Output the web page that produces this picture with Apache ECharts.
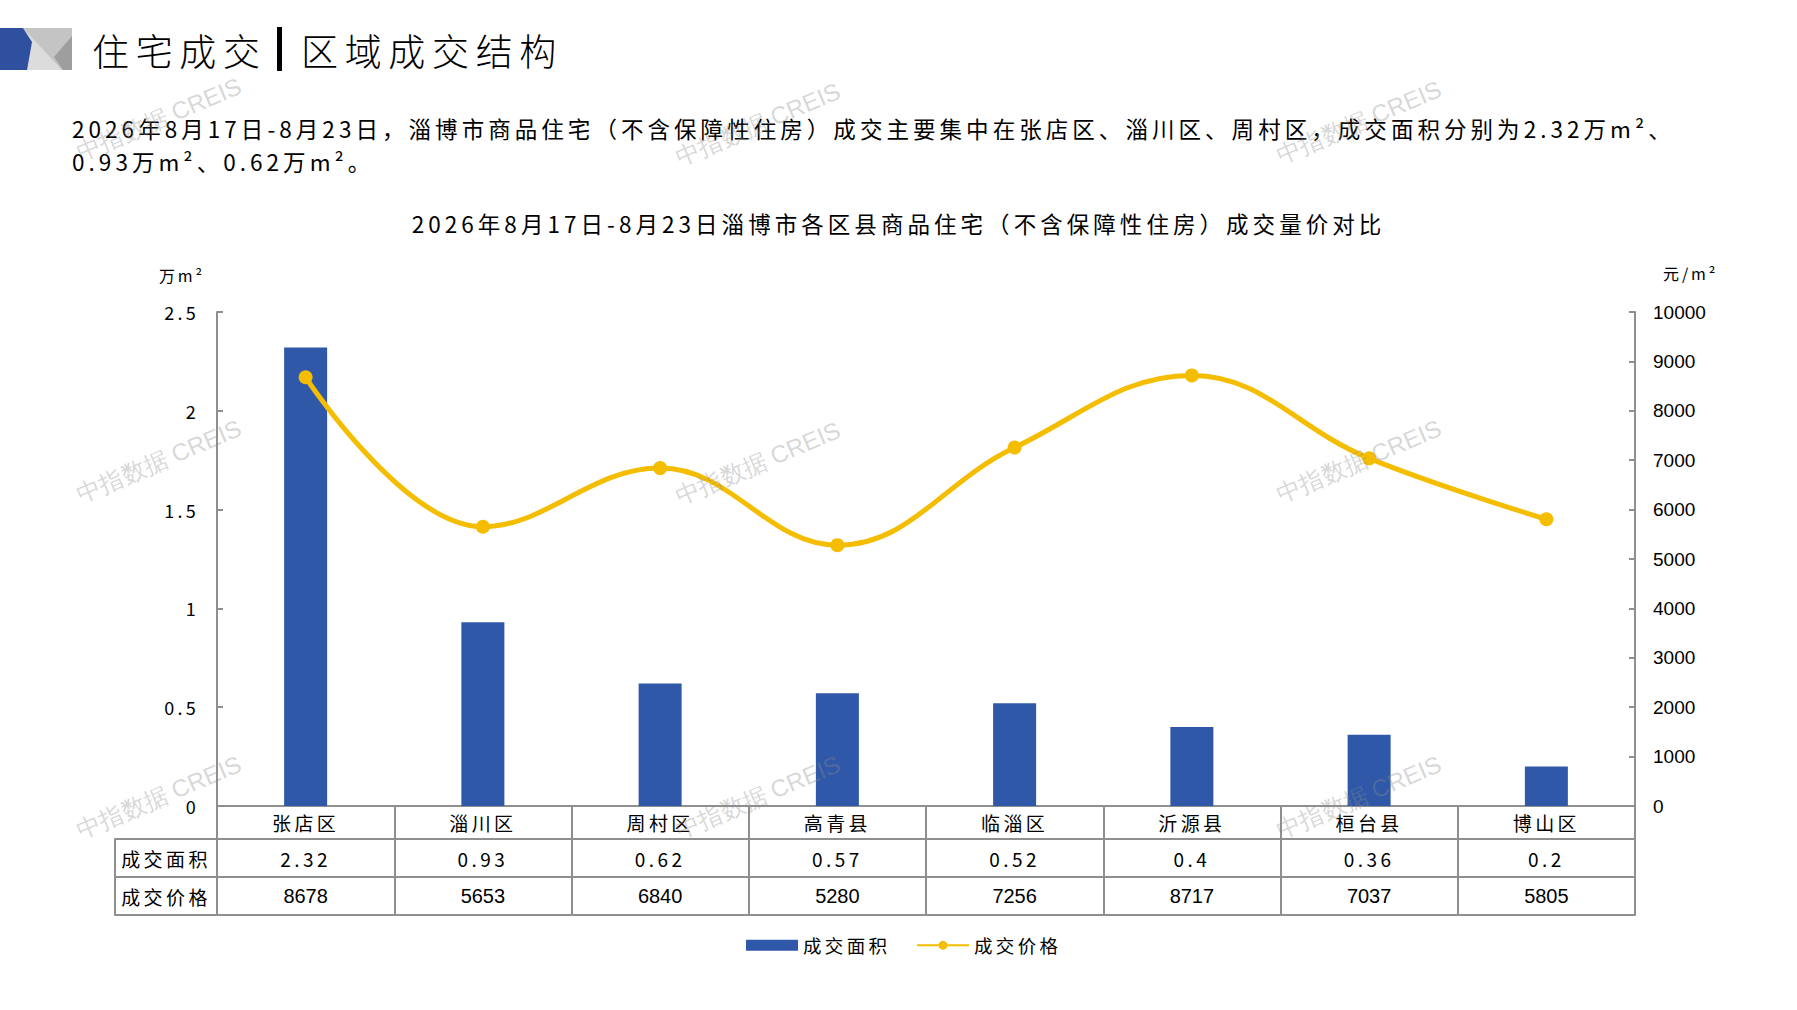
<!DOCTYPE html>
<html>
<head>
<meta charset="utf-8">
<script src="https://cdn.jsdelivr.net/npm/echarts@6/dist/echarts.min.js"></script>
<style>
html,body{margin:0;padding:0;background:#fff;}
#chart{width:1797px;height:1010px;}
/* the source font is widely spaced, so space out the CJK texts */
#chart text[style*="CJK"]{letter-spacing:0.18em;}
</style>
</head>
<body>
<div id="chart"></div>
<script>
var categories = ['张店区','淄川区','周村区','高青县','临淄区','沂源县','桓台县','博山区'];
var areaValues = [2.32, 0.93, 0.62, 0.57, 0.52, 0.4, 0.36, 0.2];
var priceValues = [8678, 5653, 6840, 5280, 7256, 8717, 7037, 5805];
var rowNames = ['成交面积', '成交价格'];
var areaTicks = [0, 0.5, 1, 1.5, 2, 2.5];
var priceTicks = [0, 1000, 2000, 3000, 4000, 5000, 6000, 7000, 8000, 9000, 10000];

var cjk = 'Noto Sans CJK SC';
var latin = 'Liberation Sans';
var blue = '#2F58A8';
var gold = '#F4BD00';
var border = '#8F8F8F';

var chart = echarts.init(document.getElementById('chart'), null, {renderer: 'svg'});

// one row of the data table under the chart, drawn as an offset category axis
function rowAxis(grid, data, offset, height, showLabel, font) {
    return {
        type: 'category',
        gridIndex: grid,
        data: data,
        position: 'bottom',
        offset: offset,
        axisLine: {show: true, onZero: false, lineStyle: {color: border, width: 2}},
        axisTick: {show: height > 0, length: height, interval: 0, lineStyle: {color: border, width: 2}},
        axisLabel: {
            show: showLabel, interval: 0, margin: height / 2,
            verticalAlign: 'middle', fontSize: font === latin ? 20 : 19, color: '#000', fontFamily: font || cjk
        },
        splitLine: {show: false}
    };
}

var marks = [[159, 119], [758, 124], [1359, 122], [159, 461], [758, 463], [1359, 461], [159, 797], [758, 797], [1359, 797]];
var watermarks = marks.map(function (p) {
    return {
        type: 'text', x: p[0], y: p[1], rotation: Math.PI * 23 / 180, z: 100,
        style: {text: '中指数据 CREIS', fontSize: 24, fontFamily: latin,
            fill: 'rgba(140,140,140,0.35)', align: 'center', verticalAlign: 'middle'}
    };
});

var option = {
    backgroundColor: '#fff',
    animation: false,
    title: {
        text: '2026年8月17日-8月23日淄博市各区县商品住宅（不含保障性住房）成交量价对比',
        left: 'center', top: 207,
        textStyle: {fontSize: 22.5, fontWeight: 'normal', color: '#000', fontFamily: cjk}
    },
    legend: {
        left: 741, top: 931,
        itemWidth: 52, itemHeight: 11, itemGap: 39,
        textStyle: {fontSize: 18.5, color: '#000', fontFamily: cjk},
        data: [{name: '成交面积', icon: 'rect'}, {name: '成交价格'}]
    },
    grid: [
        {left: 217, right: 162, top: 312, bottom: 204},
        {left: 115, right: 1580, top: 700, bottom: 204}
    ],
    xAxis: [
        rowAxis(0, categories, 0, 33, true),
        rowAxis(0, areaValues.map(String), 33, 38, true),
        rowAxis(0, priceValues.map(String), 71, 38, true, latin),
        rowAxis(0, categories, 109, 0, false),
        rowAxis(1, [rowNames[0]], 33, 38, true),
        rowAxis(1, [rowNames[1]], 71, 38, true),
        rowAxis(1, [''], 109, 0, false)
    ],
    yAxis: [
        {
            type: 'value', gridIndex: 0, position: 'left',
            min: areaTicks[0], max: areaTicks[areaTicks.length - 1], interval: areaTicks[1] - areaTicks[0],
            name: '万m²', nameLocation: 'end', nameGap: 37,
            nameTextStyle: {fontSize: 16, color: '#000', fontFamily: cjk, align: 'right', verticalAlign: 'middle', padding: [0, 12, 0, 0]},
            axisLine: {show: true, onZero: false, lineStyle: {color: border, width: 2}},
            axisTick: {show: true, inside: true, length: 6, lineStyle: {color: border, width: 2}},
            axisLabel: {fontSize: 18, color: '#000', fontFamily: cjk, margin: 18},
            splitLine: {show: false}
        },
        {
            type: 'value', gridIndex: 0, position: 'right',
            min: priceTicks[0], max: priceTicks[priceTicks.length - 1], interval: priceTicks[1] - priceTicks[0],
            name: '元/m²', nameLocation: 'end', nameGap: 39,
            nameTextStyle: {fontSize: 16, color: '#000', fontFamily: cjk, align: 'left', verticalAlign: 'middle', padding: [0, 0, 0, 28]},
            axisLine: {show: true, onZero: false, lineStyle: {color: border, width: 2}},
            axisTick: {show: true, inside: true, length: 6, lineStyle: {color: border, width: 2}},
            axisLabel: {fontSize: 19, color: '#000', fontFamily: latin, margin: 18,
                formatter: function (v) { return String(v); }},
            splitLine: {show: false}
        },
        {type: 'value', gridIndex: 1, show: false}
    ],
    series: [
        {
            name: '成交面积', type: 'bar', xAxisIndex: 0, yAxisIndex: 0,
            data: areaValues, barWidth: 43,
            itemStyle: {color: blue}
        },
        {
            name: '成交价格', type: 'line', xAxisIndex: 0, yAxisIndex: 1,
            data: priceValues, smooth: 0.4,
            symbol: 'circle', symbolSize: 14,
            lineStyle: {color: gold, width: 5},
            itemStyle: {color: gold}
        }
    ],
    graphic: [
        {type: 'rect', shape: {x: 23, y: 28, width: 49, height: 42}, style: {fill: '#DCDCDC'}},
        {type: 'polygon', shape: {points: [[23, 28], [72, 28], [72, 70], [62, 70]]}, style: {fill: '#C4C4C4'}},
        {type: 'polygon', shape: {points: [[72, 36], [72, 70], [63, 70], [54, 57]]}, style: {fill: '#9E9E9E'}},
        {type: 'polygon', shape: {points: [[0, 28], [23, 28], [32, 42], [27, 70], [0, 70]]}, style: {fill: '#2F4F9F'}},
        {type: 'text', x: 92, y: 50, style: {text: '住宅成交', fontSize: 37, fontWeight: 300, fontFamily: cjk, fill: '#000', verticalAlign: 'middle'}},
        {type: 'rect', shape: {x: 277, y: 27, width: 5, height: 44}, style: {fill: '#000'}},
        {type: 'text', x: 301, y: 50, style: {text: '区域成交结构', fontSize: 37, fontWeight: 300, fontFamily: cjk, fill: '#000', verticalAlign: 'middle'}},
        {type: 'text', x: 72, y: 128, style: {text: '2026年8月17日-8月23日，淄博市商品住宅（不含保障性住房）成交主要集中在张店区、淄川区、周村区，成交面积分别为2.32万m²、', fontSize: 22.5, fontFamily: cjk, fill: '#000', verticalAlign: 'middle'}},
        {type: 'text', x: 72, y: 161, style: {text: '0.93万m²、0.62万m²。', fontSize: 22.5, fontFamily: cjk, fill: '#000', verticalAlign: 'middle'}}
    ].concat(watermarks)
};
chart.setOption(option);
</script>
</body>
</html>
